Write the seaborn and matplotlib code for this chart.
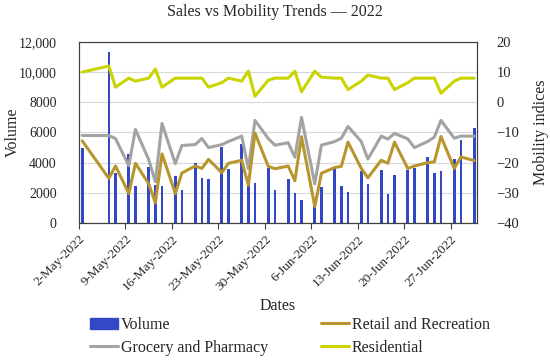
import pandas as pd
import numpy as np
import matplotlib
matplotlib.use("Agg")
import matplotlib.pyplot as plt
import seaborn as sns
from matplotlib.patches import Patch
from matplotlib.lines import Line2D
from matplotlib.ticker import FuncFormatter, MultipleLocator

# data
dates = ["2022-05-02", "2022-05-06", "2022-05-07", "2022-05-09", "2022-05-10",
         "2022-05-12", "2022-05-13", "2022-05-14", "2022-05-16", "2022-05-17",
         "2022-05-19", "2022-05-20", "2022-05-21", "2022-05-23", "2022-05-24",
         "2022-05-26", "2022-05-27", "2022-05-28", "2022-05-30", "2022-05-31",
         "2022-06-02", "2022-06-03", "2022-06-04", "2022-06-06", "2022-06-07",
         "2022-06-09", "2022-06-10", "2022-06-11", "2022-06-13", "2022-06-14",
         "2022-06-16", "2022-06-17", "2022-06-18", "2022-06-20", "2022-06-21",
         "2022-06-23", "2022-06-24", "2022-06-25", "2022-06-27", "2022-06-28",
         "2022-06-30"]
volume = [4950, 11350, 3320, 4600, 2460, 3690, 2530, 2440, 3130, 2220,
          3970, 2970, 2890, 5070, 3550, 5260, 2620, 2640, 3650, 2200,
          2920, 1980, 1560, 1100, 2380, 3640, 2440, 2090, 3450, 2590,
          3510, 1910, 3180, 3510, 3620, 4350, 3290, 3450, 4220, 5480,
          6320]
retail = [-12.8, -25.2, -21.1, -30.2, -20.2, -27, -33.3, -17.1, -30.2, -23.4,
          -21.1, -21.9, -18.9, -23.3, -20.2, -19.2, -27.5, -10.2, -21.2, -22,
          -21.1, -26, -11.4, -34.5, -23.5, -21.6, -21.2, -13.2, -21.9, -25,
          -19.2, -20.2, -13.2, -21.9, -21.1, -20, -19.7, -11.3, -21.9, -18.1,
          -19.3]
grocery = [-11, -11, -12, -21, -9, -19, -26.3, -7, -20.3, -14.3,
           -14, -12, -15, -14, -13, -11.2, -22, -6, -12, -14.2,
           -13.4, -18.2, -5, -27, -14.2, -13, -11.9, -8, -13, -18.8,
           -11.2, -12.2, -10.3, -12.1, -15, -13, -11.5, -6, -11.9, -11.2,
           -11.2]
residential = [10, 12, 5, 8, 7, 8, 11, 5, 8, 8,
               8, 8, 5, 6.5, 8, 7, 10.3, 2, 7.3, 8,
               8, 10.3, 3.5, 10.3, 8.3, 8, 8, 4.2, 7, 9,
               8, 8, 4.2, 6.5, 8, 8, 8, 3, 7, 8,
               8]
tick_dates = ["2022-05-02", "2022-05-09", "2022-05-16", "2022-05-23", "2022-05-30",
              "2022-06-06", "2022-06-13", "2022-06-20", "2022-06-27"]

start = pd.Timestamp("2022-05-02")
df = pd.DataFrame({"date": pd.to_datetime(dates), "volume": volume, "retail": retail,
                   "grocery": grocery, "residential": residential})
# each date sits in the middle of its day slot
df["x"] = (df["date"] - start).dt.days + 0.5
tick_ts = pd.to_datetime(tick_dates)
tick_pos = (tick_ts - start).days
tick_lbl = [f"{t.day}-{t.strftime('%b-%Y')}" for t in tick_ts]

sns.set_theme(style="white")
plt.rcParams['font.family'] = ['Liberation Serif', 'DejaVu Serif']
plt.rcParams['axes.unicode_minus'] = True

c_vol = '#3348C4'
c_retail = '#B8962E'
c_groc = '#A3A3A3'
c_res = '#C9D400'

fig, ax = plt.subplots(figsize=(5.5, 3.61), dpi=100)
fig.subplots_adjust(left=0.1436, right=0.867, top=0.884, bottom=0.382)

sns.barplot(data=df, x="x", y="volume", native_scale=True, width=0.4, color=c_vol,
            saturation=1, errorbar=None, linewidth=0, edgecolor=c_vol, ax=ax, zorder=2)
ax.set_ylim(0, 12000)
ax.yaxis.set_major_locator(MultipleLocator(2000))
ax.yaxis.set_major_formatter(FuncFormatter(lambda v, p: f"{v:,.0f}" if v >= 10000 else f"{v:.0f}"))
ax.grid(axis='y', color='#D9D9D9', linewidth=0.8, zorder=0)
ax.set_axisbelow(True)

ax2 = ax.twinx()
sns.lineplot(data=df, x="x", y="grocery", color=c_groc, linewidth=2.2, ax=ax2)
sns.lineplot(data=df, x="x", y="residential", color=c_res, linewidth=2.2, ax=ax2)
sns.lineplot(data=df, x="x", y="retail", color=c_retail, linewidth=2.2, ax=ax2)
ax2.set_ylim(-40, 20)
ax2.yaxis.set_major_locator(MultipleLocator(10))

ax.set_xlim(0, 59.9)
ax.set_xticks(tick_pos)
ax.set_xticklabels(tick_lbl, rotation=45, ha='right', rotation_mode='anchor', fontsize=9.5)
ax.tick_params(axis='x', bottom=True, length=4, width=0.8, color='#404040', pad=3)
ax.tick_params(axis='y', left=False, labelsize=10, pad=10)
ax2.tick_params(axis='y', right=False, labelsize=10.5, pad=8)

ax.set_xlabel("Dates", fontsize=11.5, labelpad=4)
ax.set_ylabel("Volume", fontsize=11.5)
ax.yaxis.set_label_coords(-0.145, 0.5)
ax2.set_ylabel("Mobility indices", fontsize=11.5, labelpad=10)

for a in (ax, ax2):
    for s in a.spines.values():
        s.set_color('#404040')
        s.set_linewidth(0.8)

fig.suptitle("Sales vs Mobility Trends — 2022", fontsize=11.5, y=0.967, va='center')

handles = [Patch(facecolor=c_vol, edgecolor=c_vol),
           Line2D([0], [0], color=c_groc, linewidth=2.2),
           Line2D([0], [0], color=c_retail, linewidth=2.2),
           Line2D([0], [0], color=c_res, linewidth=2.2)]
labels = ["Volume", "Grocery and Pharmacy", "Retail and Recreation", "Residential"]
fig.legend(handles, labels, ncol=2, loc='center left', bbox_to_anchor=(0.149, 0.068),
           frameon=False, fontsize=11.5, borderpad=0, handlelength=1.75,
           handletextpad=0.2, columnspacing=3.3, labelspacing=0.45)

plt.savefig("out.png", dpi=100)
plt.close()
